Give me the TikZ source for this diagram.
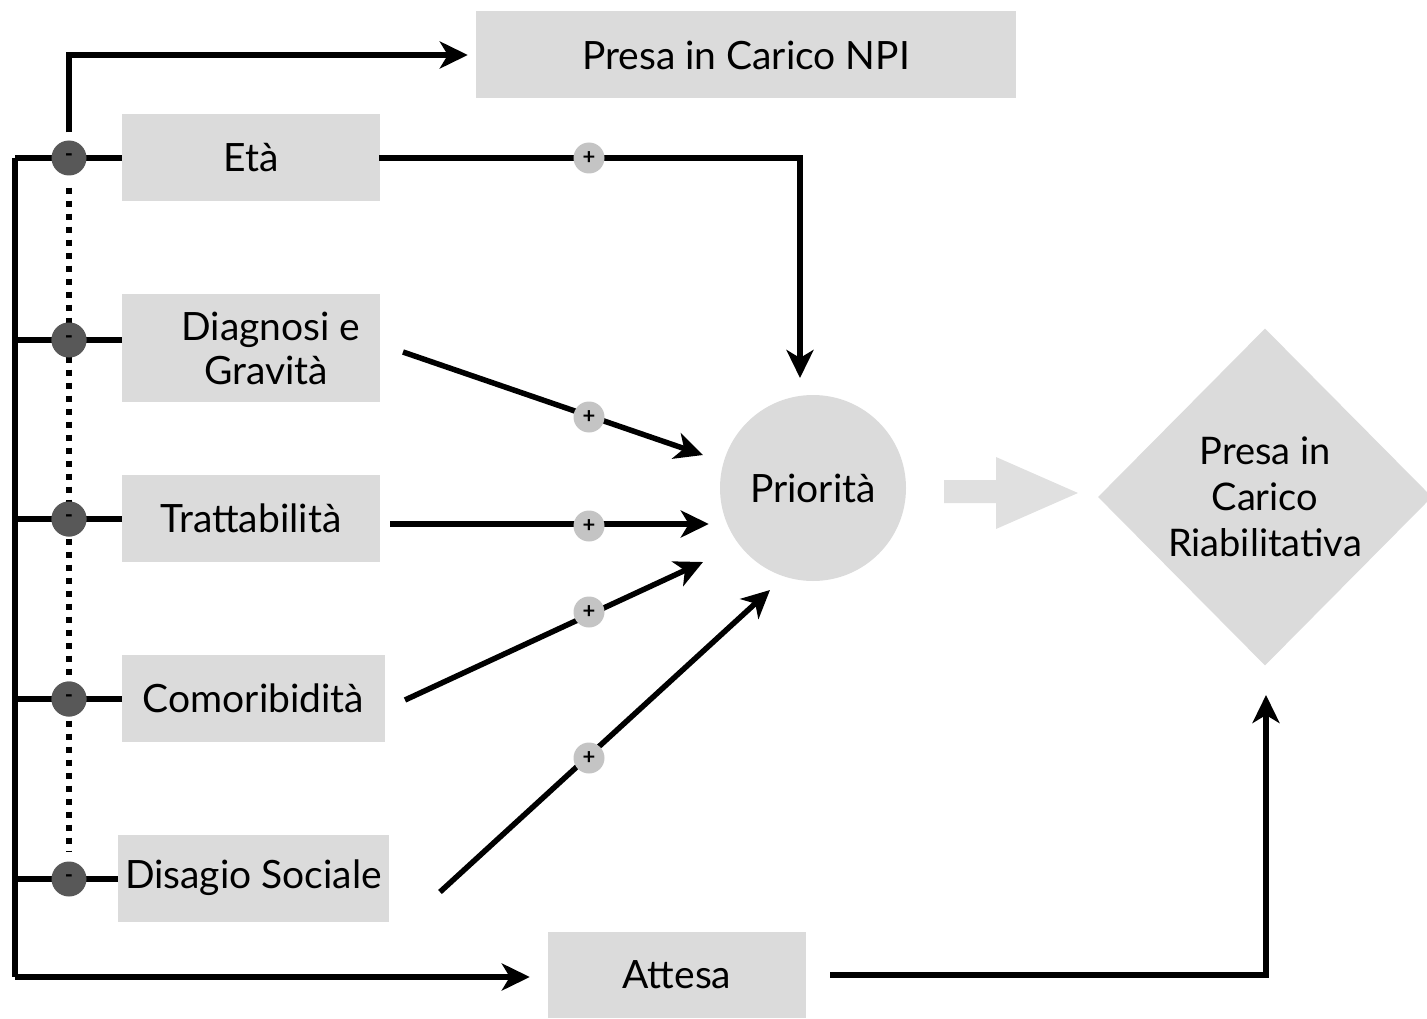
\documentclass[tikz,border=0pt]{standalone}
\usepackage{fontspec}
\setmainfont{Lato}
\usetikzlibrary{arrows.meta,shapes.geometric,calc}
\definecolor{boxgray}{RGB}{219,219,219}
\definecolor{minusgray}{RGB}{88,88,88}
\definecolor{plusgray}{RGB}{196,196,196}
\definecolor{arrgray}{RGB}{224,224,224}
\tikzset{
  box/.style={fill=boxgray, inner sep=0pt, font=\fontsize{39}{44}\selectfont, align=center},
  minus/.style={circle, fill=minusgray, minimum size=35pt, inner sep=0pt, font=\fontsize{22}{22}\selectfont\bfseries},
  plus/.style={circle, fill=plusgray, minimum size=31pt, inner sep=0pt, font=\fontsize{22}{22}\selectfont\bfseries},
  conn/.style={line width=5.5pt, line join=miter},
  arr/.style={conn, -{Stealth[length=28pt,width=27pt,inset=8pt]}},
}
\begin{document}
\begin{tikzpicture}[x=1pt,y=-1pt]
\useasboundingbox (0,0) rectangle (1427,1019);
% boxes
\node[box, minimum width=540pt, minimum height=87pt] (npi) at (746,55) {Presa in Carico NPI};
\node[box, minimum width=258pt, minimum height=87pt] (eta) at (251,158) {Età};
\node[box, minimum width=258pt, minimum height=108pt] (dia) at (251,348) {\hspace*{40pt}Diagnosi e\\\hspace*{30pt}Gravità};
\node[box, minimum width=258pt, minimum height=87pt] (tra) at (251,518) {Trattabilità};
\node[box, minimum width=263pt, minimum height=87pt] (com) at (253.5,698) {Comoribidità};
\node[box, minimum width=271pt, minimum height=87pt] (dis) at (253.5,878) {Disagio Sociale};
\node[box, minimum width=258pt, minimum height=86pt] (att) at (677,975) {Attesa};
\node[circle, fill=boxgray, minimum size=186pt, inner sep=0pt, font=\fontsize{39}{44}\selectfont] (pri) at (813,488) {Priorità};
\node[diamond, fill=boxgray, minimum width=334pt, minimum height=337pt, inner sep=0pt, aspect=1, font=\fontsize{38}{46}\selectfont, align=center] (rib) at (1265,497) {Presa in\\Carico\\Riabilitativa};
% big gray arrow
\fill[arrgray] (944,480) -- (996,480) -- (996,457) -- (1078,493) -- (996,529) -- (996,503) -- (944,503) -- cycle;
% left bus
\coordinate (bt) at (15,158);
\coordinate (bb) at (15,977);
\draw[conn] (bt) -- (bb);
\draw[arr, shorten >=18pt] (bb) -- (att.west |- bb);
\foreach \n/\y in {eta/158, dia/340, tra/519, com/699, dis/879}{
  \draw[conn] (15,\y) -- (\n.west |- 0,\y);
}
% minus nodes
\node[minus] (m1) at (69,158) {-};
\node[minus] (m2) at (69,340) {-};
\node[minus] (m3) at (69,519) {-};
\node[minus] (m4) at (69,699) {-};
\node[minus] (m5) at (69,879) {-};
\draw[line width=6pt, dash pattern=on 6pt off 7pt, shorten <=12pt, shorten >=10pt] (m1.south) -- (m5.north);
\foreach \a in {m2,m3,m4}{ \node[minus] at (\a) {-}; }
% top NPI
\draw[arr, shorten <=8pt, shorten >=8pt] (m1.north) |- (npi.west);
% arrows to priorita
\coordinate (etaend) at (800,378);
\draw[arr, shorten <=-1pt] (eta.east) -| (etaend);
\coordinate (d1) at (403,352);
\coordinate (d2) at (703,455);
\draw[arr] (d1) -- (d2);
\coordinate (t1) at (390,524);
\draw[arr, shorten >=11pt] (t1) -- (t1 -| pri.west);
\coordinate (c1) at (405,700);
\coordinate (c2) at (703,562);
\draw[arr] (c1) -- (c2);
\coordinate (s1) at (440,892);
\coordinate (s2) at (770,590);
\draw[arr] (s1) -- (s2);
% attesa to riabilitativa
\coordinate (rb) at (1266,695);
\draw[arr, shorten <=24pt] (att.east) -| (rb);
% plus nodes
\node[plus] (p1) at (589,158) {+};
\node[plus] (p2) at (589,417) {+};
\node[plus] (p3) at (589,526) {+};
\node[plus] (p4) at (589,612) {+};
\node[plus] (p5) at (589,758) {+};
\end{tikzpicture}
\end{document}
